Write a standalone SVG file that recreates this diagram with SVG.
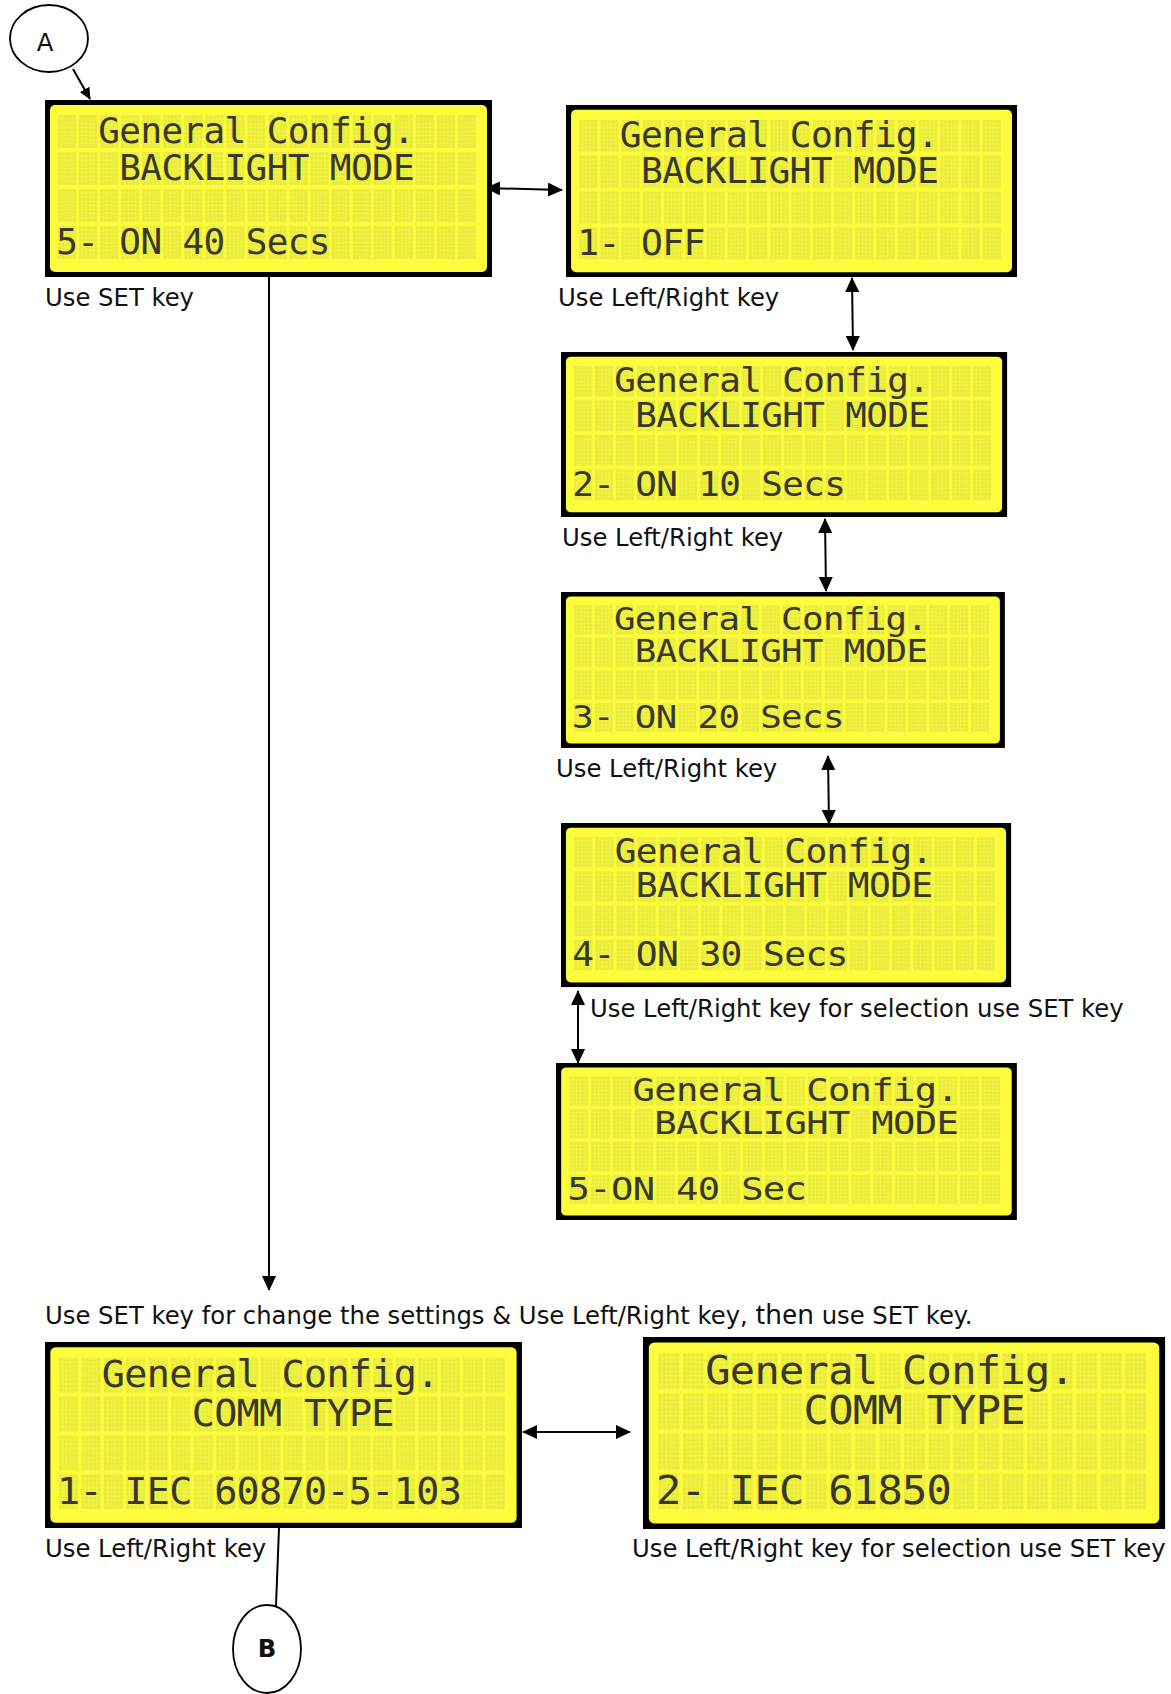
<svg xmlns="http://www.w3.org/2000/svg" xmlns:xlink="http://www.w3.org/1999/xlink" width="1171" height="1694" viewBox="0 0 1171 1694">
<style>
.lbl{font-family:"DejaVu Sans","Verdana",sans-serif;font-size:24.3px;fill:#111}
.lcdt{font-family:"DejaVu Sans Mono","Liberation Mono",monospace;font-size:36px;letter-spacing:-0.62px;fill:#38382c}
.con{stroke:#000;stroke-width:2;fill:none}
.circ{fill:#fff;stroke:#000;stroke-width:1.8}
</style>
<defs>
<pattern id="cells" x="13" y="15" width="21.05" height="37" patternUnits="userSpaceOnUse">
<rect x="0" y="0" width="18" height="33" fill="#EAEA3C"/>
<g stroke="#F7F744" stroke-width="0.7">
<line x1="3.6" y1="0" x2="3.6" y2="33"/><line x1="7.2" y1="0" x2="7.2" y2="33"/><line x1="10.8" y1="0" x2="10.8" y2="33"/><line x1="14.4" y1="0" x2="14.4" y2="33"/>
<line x1="0" y1="4.1" x2="18" y2="4.1"/><line x1="0" y1="8.2" x2="18" y2="8.2"/><line x1="0" y1="12.4" x2="18" y2="12.4"/><line x1="0" y1="16.5" x2="18" y2="16.5"/><line x1="0" y1="20.6" x2="18" y2="20.6"/><line x1="0" y1="24.7" x2="18" y2="24.7"/><line x1="0" y1="28.9" x2="18" y2="28.9"/>
</g>
</pattern>
<g id="lcdbg">
<rect x="0" y="0" width="447" height="177" fill="#000"/>
<rect x="5" y="5" width="437" height="167" rx="5" fill="#FCFC3C"/>
<rect x="13" y="15" width="418" height="144" fill="url(#cells)"/>
</g>
<marker id="ah" viewBox="0 0 15 14" refX="14" refY="7" markerWidth="15" markerHeight="14" markerUnits="userSpaceOnUse" orient="auto-start-reverse">
<path d="M0,0 L15,7 L0,14 z" fill="#000"/>
</marker>
<marker id="ahs" viewBox="0 0 12 11" refX="11" refY="5.5" markerWidth="12" markerHeight="11" markerUnits="userSpaceOnUse" orient="auto">
<path d="M0,0 L12,5.5 L0,11 z" fill="#000"/>
</marker>
</defs>

<g id="connectors">
<line class="con" x1="73" y1="69" x2="90" y2="99" marker-end="url(#ahs)"/>
<line class="con" x1="486" y1="188" x2="562" y2="190" marker-start="url(#ah)" marker-end="url(#ah)"/>
<line class="con" x1="852" y1="278" x2="853" y2="350" marker-start="url(#ah)" marker-end="url(#ah)"/>
<line class="con" x1="825" y1="519" x2="826" y2="591" marker-start="url(#ah)" marker-end="url(#ah)"/>
<line class="con" x1="828" y1="756" x2="829" y2="824" marker-start="url(#ah)" marker-end="url(#ah)"/>
<line class="con" x1="578" y1="991" x2="578" y2="1063" marker-start="url(#ah)" marker-end="url(#ah)"/>
<line class="con" x1="269" y1="277" x2="269" y2="1290" marker-end="url(#ah)"/>
<line class="con" x1="523" y1="1432" x2="630" y2="1432" marker-start="url(#ah)" marker-end="url(#ah)"/>
<line class="con" x1="279" y1="1528" x2="276" y2="1606"/>
</g>

<g id="nodeA">
<ellipse class="circ" cx="49" cy="38.5" rx="39" ry="33.5"/>
<text x="45" y="51" text-anchor="middle" class="lbl">A</text>
</g>

<g id="lcd1" transform="translate(45,100)">
<use xlink:href="#lcdbg"/>
<text class="lcdt"><tspan x="53.3" y="43">General Config.</tspan><tspan x="74.3" y="80">BACKLIGHT MODE</tspan><tspan x="11.2" y="154">5- ON 40 Secs</tspan></text>
</g>
<text class="lbl" x="45" y="306">Use SET key</text>

<g id="lcd2" transform="translate(566,105) scale(1.009,0.972)">
<use xlink:href="#lcdbg"/>
<text class="lcdt"><tspan x="53.3" y="43">General Config.</tspan><tspan x="74.3" y="80">BACKLIGHT MODE</tspan><tspan x="11.2" y="154">1- OFF</tspan></text>
</g>
<text class="lbl" x="558" y="306">Use Left/Right key</text>

<g id="lcd3" transform="translate(561,352) scale(0.998,0.932)">
<use xlink:href="#lcdbg"/>
<text class="lcdt"><tspan x="53.3" y="43">General Config.</tspan><tspan x="74.3" y="80">BACKLIGHT MODE</tspan><tspan x="11.2" y="154">2- ON 10 Secs</tspan></text>
</g>
<text class="lbl" x="562" y="546">Use Left/Right key</text>

<g id="lcd4" transform="translate(561,592) scale(0.993,0.881)">
<use xlink:href="#lcdbg"/>
<text class="lcdt"><tspan x="53.3" y="43">General Config.</tspan><tspan x="74.3" y="80">BACKLIGHT MODE</tspan><tspan x="11.2" y="154">3- ON 20 Secs</tspan></text>
</g>
<text class="lbl" x="556" y="777">Use Left/Right key</text>

<g id="lcd5" transform="translate(561,823) scale(1.007,0.927)">
<use xlink:href="#lcdbg"/>
<text class="lcdt"><tspan x="53.3" y="43">General Config.</tspan><tspan x="74.3" y="80">BACKLIGHT MODE</tspan><tspan x="11.2" y="154">4- ON 30 Secs</tspan></text>
</g>
<text class="lbl" x="590" y="1017">Use Left/Right key for selection use SET key</text>

<g id="lcd6" transform="translate(556,1063) scale(1.031,0.887)">
<use xlink:href="#lcdbg"/>
<text class="lcdt"><tspan x="74.3" y="43">General Config.</tspan><tspan x="95.4" y="80">BACKLIGHT MODE</tspan><tspan x="11.2" y="154">5-ON 40 Sec</tspan></text>
</g>

<text class="lbl" x="45" y="1324" font-size="25.3">Use SET key for change the settings &amp; Use Left/Right key, <tspan font-family="'Noto Sans',sans-serif" font-size="27">then</tspan> use SET key.</text>

<g id="lcd7" transform="translate(45,1342) scale(1.067,1.051)">
<use xlink:href="#lcdbg"/>
<text class="lcdt"><tspan x="53.3" y="43">General Config.</tspan><tspan x="137.5" y="80">COMM TYPE</tspan><tspan x="11.2" y="154">1- IEC 60870-5-103</tspan></text>
</g>
<text class="lbl" x="45" y="1557">Use Left/Right key</text>

<g id="lcd8" transform="translate(643,1337) scale(1.168,1.085)">
<use xlink:href="#lcdbg"/>
<text class="lcdt"><tspan x="53.3" y="43">General Config.</tspan><tspan x="137.5" y="80">COMM TYPE</tspan><tspan x="11.2" y="154">2- IEC 61850</tspan></text>
</g>
<text class="lbl" x="632" y="1557">Use Left/Right key for selection use SET key</text>

<g id="nodeB">
<ellipse class="circ" cx="267" cy="1649" rx="34" ry="44"/>
<text x="267" y="1657" text-anchor="middle" class="lbl" font-weight="bold">B</text>
</g>
</svg>
